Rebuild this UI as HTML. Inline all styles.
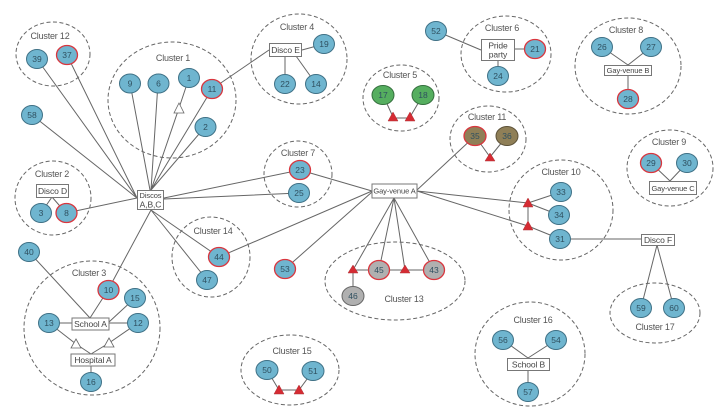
<!DOCTYPE html>
<html><head><meta charset="utf-8"><style>
html,body{margin:0;padding:0;background:#fff;width:725px;height:419px;overflow:hidden}
svg{display:block;font-family:"Liberation Sans",sans-serif}
.e{fill:none;stroke:#666;stroke-width:1;stroke-dasharray:4 2.5}
.l{stroke:#666;stroke-width:1;fill:none}
.lab{font-size:9px;letter-spacing:-.2px;fill:#555;text-anchor:middle}
.b{fill:#6fb5cf;stroke:#3f7186;stroke-width:1}
.r{fill:#6fb5cf;stroke:#d9363e;stroke-width:1.3}
.g{fill:#55ae5f;stroke:#356f3e;stroke-width:1}
.o{fill:#8f7f57;stroke:#5c5138;stroke-width:1}
.or{fill:#8f7f57;stroke:#d9363e;stroke-width:1.3}
.gr{fill:#b0b0b0;stroke:#d9363e;stroke-width:1.3}
.gg{fill:#b0b0b0;stroke:#666;stroke-width:1}
.n{font-size:8.5px;fill:#2f5060;text-anchor:middle}
.box{fill:#fff;stroke:#777;stroke-width:1}
.t{font-size:8.5px;letter-spacing:-.1px;fill:#444;text-anchor:middle}
.v{font-size:7.5px;letter-spacing:-.1px;fill:#444;text-anchor:middle}
.red{fill:#d52b33;stroke:#b0363a;stroke-width:.5}
.wh{fill:#fff;stroke:#666;stroke-width:.8}
</style></head><body>
<svg width="725" height="419" viewBox="0 0 725 419" xmlns="http://www.w3.org/2000/svg">
<g>
<ellipse class="e" cx="53" cy="54" rx="37" ry="32"/>
<ellipse class="e" cx="172" cy="100" rx="64" ry="58"/>
<ellipse class="e" cx="53" cy="198" rx="38" ry="37"/>
<ellipse class="e" cx="92" cy="328" rx="68" ry="67"/>
<ellipse class="e" cx="211" cy="257" rx="39" ry="40"/>
<ellipse class="e" cx="299" cy="59" rx="48" ry="45"/>
<ellipse class="e" cx="401" cy="98" rx="38" ry="33"/>
<ellipse class="e" cx="298" cy="174" rx="34" ry="33"/>
<ellipse class="e" cx="488" cy="139" rx="38" ry="33"/>
<ellipse class="e" cx="506" cy="54" rx="45" ry="38"/>
<ellipse class="e" cx="628" cy="66" rx="53" ry="48"/>
<ellipse class="e" cx="670" cy="168" rx="43" ry="38"/>
<ellipse class="e" cx="561" cy="210" rx="52" ry="50"/>
<ellipse class="e" cx="395" cy="281" rx="70" ry="39"/>
<ellipse class="e" cx="290" cy="370" rx="49" ry="35"/>
<ellipse class="e" cx="530" cy="354" rx="55" ry="52"/>
<ellipse class="e" cx="655" cy="313" rx="45" ry="30"/>
</g>
<g class="l">
<path d="M37 59L137 198M67 55L137 198M32 115L137 198M130 83L150 190M158 83L151 190M179 108L151 190M189 78L179 108M212 89L151 190M205 127L151 190M66 213L137 198"/>
<path d="M164 198L300 170M164 199L299 193M151 210L108 290M151 210L219 257M151 210L207 280"/>
<path d="M29 252L90 318M108 290L90 318M135 298L109 322M49 323L138 323M49 323L76 344M138 323L109 343M76 344L91 354M109 343L91 354M91 366L91 382"/>
<path d="M52 197L41 213M52 197L66 213"/>
<path d="M212 89L269 50M302 50L324 44M285 56L285 84M296 56L316 84"/>
<path d="M383 95L393 117M423 95L410 117M393 118L410 118"/>
<path d="M436 31L481 50M514 49L535 49M498 60L498 76"/>
<path d="M300 170L372 191M219 257L372 191M285 269L372 192"/>
<path d="M417 190L475 136M475 136L490 157M507 136L490 157"/>
<path d="M417 191L528 203M417 191L528 226M528 203L528 226M528 203L561 192M528 203L559 215M528 226L560 239M560 239L641 239"/>
<path d="M394 198L353 270M394 198L379 270M394 198L405 270M394 198L434 270M353 270L434 270M353 270L353 296"/>
<path d="M267 370L279 390M313 371L299 390M279 390L299 390"/>
<path d="M602 47L628 65M651 47L628 65M628 75L628 99"/>
<path d="M651 163L670 181M687 163L670 181"/>
<path d="M657 245L641 308M657 245L674 308"/>
<path d="M503 340L528 358M556 340L528 358M528 370L528 392"/>
</g>
<g>
<polygon class="wh" points="179,103 184,113 174,113"/>
<polygon class="wh" points="76,339 81,348 71,348"/>
<polygon class="wh" points="109,338 114,347 104,347"/>
<polygon class="red" points="393,112 398,121 388,121"/>
<polygon class="red" points="410,112 415,121 405,121"/>
<polygon class="red" points="490,153 495,161 485,161"/>
<polygon class="red" points="528,198 533,207 523,207"/>
<polygon class="red" points="528,221 533,230 523,230"/>
<polygon class="red" points="353,265 358,273 348,273"/>
<polygon class="red" points="405,265 410,273 400,273"/>
<polygon class="red" points="279,385 284,394 274,394"/>
<polygon class="red" points="299,385 304,394 294,394"/>
</g>
<g>
<ellipse class="b" cx="37" cy="59" rx="10.5" ry="9.5"/><text class="n" x="37" y="62">39</text>
<ellipse class="r" cx="67" cy="55" rx="10.5" ry="9.5"/><text class="n" x="67" y="58">37</text>
<ellipse class="b" cx="130" cy="83.5" rx="10.5" ry="9.5"/><text class="n" x="130" y="86.5">9</text>
<ellipse class="b" cx="158.5" cy="83.5" rx="10.5" ry="9.5"/><text class="n" x="158.5" y="86.5">6</text>
<ellipse class="b" cx="189" cy="78" rx="10.5" ry="9.5"/><text class="n" x="189" y="81">1</text>
<ellipse class="r" cx="212" cy="89" rx="10.5" ry="9.5"/><text class="n" x="212" y="92">11</text>
<ellipse class="b" cx="205.5" cy="127" rx="10.5" ry="9.5"/><text class="n" x="205.5" y="130">2</text>
<ellipse class="b" cx="32" cy="115" rx="10.5" ry="9.5"/><text class="n" x="32" y="118">58</text>
<ellipse class="b" cx="41" cy="213" rx="10.5" ry="9.5"/><text class="n" x="41" y="216">3</text>
<ellipse class="r" cx="66.5" cy="213" rx="10.5" ry="9.5"/><text class="n" x="66.5" y="216">8</text>
<ellipse class="b" cx="29" cy="252" rx="10.5" ry="9.5"/><text class="n" x="29" y="255">40</text>
<ellipse class="r" cx="108.5" cy="290" rx="10.5" ry="9.5"/><text class="n" x="108.5" y="293">10</text>
<ellipse class="b" cx="135" cy="298" rx="10.5" ry="9.5"/><text class="n" x="135" y="301">15</text>
<ellipse class="b" cx="49" cy="323" rx="10.5" ry="9.5"/><text class="n" x="49" y="326">13</text>
<ellipse class="b" cx="138" cy="323" rx="10.5" ry="9.5"/><text class="n" x="138" y="326">12</text>
<ellipse class="b" cx="91" cy="382" rx="10.5" ry="9.5"/><text class="n" x="91" y="385">16</text>
<ellipse class="r" cx="219" cy="257" rx="10.5" ry="9.5"/><text class="n" x="219" y="260">44</text>
<ellipse class="b" cx="207" cy="280" rx="10.5" ry="9.5"/><text class="n" x="207" y="283">47</text>
<ellipse class="b" cx="324" cy="44" rx="10.5" ry="9.5"/><text class="n" x="324" y="47">19</text>
<ellipse class="b" cx="285" cy="84" rx="10.5" ry="9.5"/><text class="n" x="285" y="87">22</text>
<ellipse class="b" cx="316" cy="84" rx="10.5" ry="9.5"/><text class="n" x="316" y="87">14</text>
<ellipse class="g" cx="383" cy="95" rx="11" ry="9.5"/><text class="n" x="383" y="98">17</text>
<ellipse class="g" cx="423" cy="95" rx="11" ry="9.5"/><text class="n" x="423" y="98">18</text>
<ellipse class="b" cx="436" cy="31" rx="10.5" ry="9.5"/><text class="n" x="436" y="34">52</text>
<ellipse class="r" cx="300" cy="170" rx="10.5" ry="9.5"/><text class="n" x="300" y="173">23</text>
<ellipse class="b" cx="299" cy="193" rx="10.5" ry="9.5"/><text class="n" x="299" y="196">25</text>
<ellipse class="or" cx="475" cy="136" rx="11" ry="9.5"/><text class="n" x="475" y="139">35</text>
<ellipse class="o" cx="507" cy="136" rx="11" ry="9.5"/><text class="n" x="507" y="139">36</text>
<ellipse class="r" cx="285" cy="269" rx="10.5" ry="9.5"/><text class="n" x="285" y="272">53</text>
<ellipse class="gr" cx="379" cy="270" rx="10.5" ry="9.5"/><text class="n" x="379" y="273">45</text>
<ellipse class="gr" cx="434" cy="270" rx="10.5" ry="9.5"/><text class="n" x="434" y="273">43</text>
<ellipse class="gg" cx="353" cy="296" rx="11" ry="9.5"/><text class="n" x="353" y="299">46</text>
<ellipse class="b" cx="267" cy="370" rx="11" ry="9.5"/><text class="n" x="267" y="373">50</text>
<ellipse class="b" cx="313" cy="371" rx="11" ry="9.5"/><text class="n" x="313" y="374">51</text>
<ellipse class="r" cx="535" cy="49" rx="10.5" ry="9.5"/><text class="n" x="535" y="52">21</text>
<ellipse class="b" cx="498" cy="76" rx="10.5" ry="9.5"/><text class="n" x="498" y="79">24</text>
<ellipse class="b" cx="602" cy="47" rx="10.5" ry="9.5"/><text class="n" x="602" y="50">26</text>
<ellipse class="b" cx="651" cy="47" rx="10.5" ry="9.5"/><text class="n" x="651" y="50">27</text>
<ellipse class="r" cx="628" cy="99" rx="10.5" ry="9.5"/><text class="n" x="628" y="102">28</text>
<ellipse class="r" cx="651" cy="163" rx="10.5" ry="9.5"/><text class="n" x="651" y="166">29</text>
<ellipse class="b" cx="687" cy="163" rx="10.5" ry="9.5"/><text class="n" x="687" y="166">30</text>
<ellipse class="b" cx="561" cy="192" rx="10.5" ry="9.5"/><text class="n" x="561" y="195">33</text>
<ellipse class="b" cx="559" cy="215" rx="10.5" ry="9.5"/><text class="n" x="559" y="218">34</text>
<ellipse class="b" cx="560" cy="239" rx="10.5" ry="9.5"/><text class="n" x="560" y="242">31</text>
<ellipse class="b" cx="641" cy="308" rx="10.5" ry="9.5"/><text class="n" x="641" y="311">59</text>
<ellipse class="b" cx="674" cy="308" rx="10.5" ry="9.5"/><text class="n" x="674" y="311">60</text>
<ellipse class="b" cx="503" cy="340" rx="10.5" ry="9.5"/><text class="n" x="503" y="343">56</text>
<ellipse class="b" cx="556" cy="340" rx="10.5" ry="9.5"/><text class="n" x="556" y="343">54</text>
<ellipse class="b" cx="528" cy="392" rx="10.5" ry="9.5"/><text class="n" x="528" y="395">57</text>
</g>
<g>
<rect class="box" x="137.5" y="190.5" width="26" height="19"/><text class="v" x="150.5" y="198">Discos</text><text class="t" x="150.5" y="207.5">A,B,C</text>
<rect class="box" x="372" y="184" width="45" height="14"/><text class="v" x="394.5" y="193.5">Gay-venue A</text>
<rect class="box" x="36.5" y="184.5" width="32" height="13"/><text class="t" x="52.5" y="194">Disco D</text>
<rect class="box" x="72" y="318" width="37" height="12"/><text class="t" x="90.5" y="327">School A</text>
<rect class="box" x="71" y="354" width="44" height="12"/><text class="t" x="93" y="363">Hospital A</text>
<rect class="box" x="269.5" y="43.5" width="32" height="13"/><text class="t" x="285.5" y="53">Disco E</text>
<rect class="box" x="481.5" y="39.5" width="33" height="21"/><text class="t" x="498" y="48.5">Pride</text><text class="t" x="498" y="57.5">party</text>
<rect class="box" x="604.5" y="65.5" width="47" height="10"/><text class="v" x="628" y="73.2">Gay-venue B</text>
<rect class="box" x="649.5" y="181.5" width="47" height="13"/><text class="v" x="673" y="190.8">Gay-venue C</text>
<rect class="box" x="641.5" y="234.5" width="33" height="11"/><text class="t" x="658" y="243">Disco F</text>
<rect class="box" x="507.5" y="358.5" width="42" height="12"/><text class="t" x="528.5" y="367.5">School B</text>
</g>
<g>
<text class="lab" x="50" y="39">Cluster 12</text>
<text class="lab" x="173" y="61">Cluster 1</text>
<text class="lab" x="52" y="177">Cluster 2</text>
<text class="lab" x="89" y="276">Cluster 3</text>
<text class="lab" x="213" y="234">Cluster 14</text>
<text class="lab" x="297" y="30">Cluster 4</text>
<text class="lab" x="400" y="78">Cluster 5</text>
<text class="lab" x="298" y="156">Cluster 7</text>
<text class="lab" x="487" y="120">Cluster 11</text>
<text class="lab" x="502" y="31">Cluster 6</text>
<text class="lab" x="626" y="33">Cluster 8</text>
<text class="lab" x="669" y="145">Cluster 9</text>
<text class="lab" x="561" y="175">Cluster 10</text>
<text class="lab" x="404" y="302">Cluster 13</text>
<text class="lab" x="292" y="354">Cluster 15</text>
<text class="lab" x="533" y="323">Cluster 16</text>
<text class="lab" x="655" y="330">Cluster 17</text>
</g>
</svg>
</body></html>
